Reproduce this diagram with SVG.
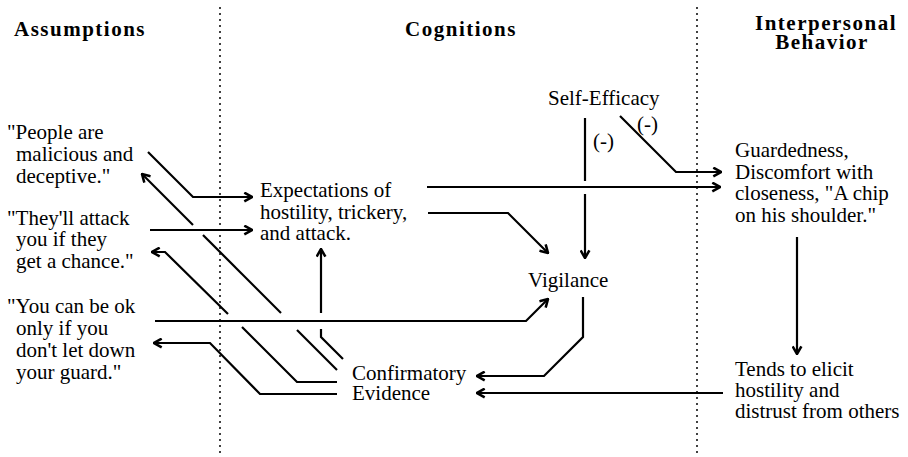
<svg xmlns="http://www.w3.org/2000/svg" width="908" height="457" viewBox="0 0 908 457">
<defs>
<style>
.t{font-family:"Liberation Serif","Times New Roman",serif;font-size:21px;fill:#000}
.h{font-family:"Liberation Serif","Times New Roman",serif;font-size:21px;font-weight:bold;fill:#000;letter-spacing:1.5px}
.l{fill:none;stroke:#000;stroke-width:2.2;stroke-linejoin:miter}
.a{marker-end:url(#ah)}
.dot{fill:none;stroke:#000;stroke-width:2;stroke-dasharray:0 6;stroke-linecap:round}
</style>
<marker id="ah" viewBox="0 0 10 10" refX="9" refY="5" markerWidth="11" markerHeight="11" markerUnits="userSpaceOnUse" orient="auto">
<path d="M2,1 L9,5 L2,9" fill="none" stroke="#000" stroke-width="2.3"/>
</marker>
</defs>
<rect width="908" height="457" fill="#fff"/>
<g id="dividers">
<line class="dot" x1="220" y1="8" x2="220" y2="456"/>
<line class="dot" x1="697" y1="8" x2="697" y2="456"/>
</g>
<g id="headers">
<text class="h" x="80" y="36" text-anchor="middle">Assumptions</text>
<text class="h" x="461" y="36" text-anchor="middle">Cognitions</text>
<text class="h" x="826" y="30" text-anchor="middle">Interpersonal</text>
<text class="h" x="822" y="49" text-anchor="middle">Behavior</text>
</g>
<g id="assumption1">
<text class="t" x="7" y="139">"People are</text>
<text class="t" x="16" y="161">malicious and</text>
<text class="t" x="16" y="183">deceptive."</text>
</g>
<g id="assumption2">
<text class="t" x="7" y="225">"They'll attack</text>
<text class="t" x="16" y="246">you if they</text>
<text class="t" x="16" y="268">get a chance."</text>
</g>
<g id="assumption3">
<text class="t" x="7" y="313">"You can be ok</text>
<text class="t" x="16" y="335">only if you</text>
<text class="t" x="16" y="357">don't let down</text>
<text class="t" x="16" y="379">your guard."</text>
</g>
<g id="expectations">
<text class="t" x="260" y="197">Expectations of</text>
<text class="t" x="260" y="219">hostility, trickery,</text>
<text class="t" x="260" y="240">and attack.</text>
</g>
<g id="self-efficacy">
<text class="t" x="548" y="105">Self-Efficacy</text>
</g>
<g id="vigilance">
<text class="t" x="528" y="287">Vigilance</text>
</g>
<g id="confirmatory">
<text class="t" x="352" y="380">Confirmatory</text>
<text class="t" x="352" y="400">Evidence</text>
</g>
<g id="guardedness">
<text class="t" x="735" y="157">Guardedness,</text>
<text class="t" x="735" y="179">Discomfort with</text>
<text class="t" x="735" y="200">closeness, "A chip</text>
<text class="t" x="735" y="222">on his shoulder."</text>
</g>
<g id="tends">
<text class="t" x="735" y="376">Tends to elicit</text>
<text class="t" x="735" y="397">hostility and</text>
<text class="t" x="735" y="418">distrust from others</text>
</g>
<g id="connectors">
<polyline class="l a" points="148,152 193,197 252,197"/>
<line class="l a" x1="150" y1="230" x2="252" y2="230"/>
<line class="l" x1="337" y1="370" x2="297" y2="330"/>
<line class="l" x1="281" y1="313" x2="203" y2="235"/>
<line class="l a" x1="193" y1="225" x2="142" y2="174"/>
<polyline class="l" points="337,382 297,382 242,327"/>
<polyline class="l a" points="228,314 165,252 152,252"/>
<polyline class="l a" points="337,394 260,394 210,343 154,343"/>
<polyline class="l" points="343,359 321,337 321,329"/>
<line class="l a" x1="321" y1="313" x2="321" y2="249"/>
<polyline class="l a" points="155,321 526,321 548,299"/>
<polyline class="l a" points="583,297 583,337 544,376 477,376"/>
<line class="l a" x1="723" y1="393" x2="477" y2="393"/>
<line class="l a" x1="427" y1="187" x2="720" y2="187"/>
<polyline class="l a" points="428,213 508,213 548,253"/>
<line class="l" x1="585" y1="118" x2="585" y2="181"/>
<line class="l a" x1="585" y1="194" x2="585" y2="258"/>
<polyline class="l a" points="620,116 676,172 721,172"/>
<line class="l a" x1="797" y1="237" x2="797" y2="354"/>
<text class="t" x="593" y="148" font-size="19">(-)</text>
<text class="t" x="637" y="131" font-size="19">(-)</text>
</g>
</svg>
